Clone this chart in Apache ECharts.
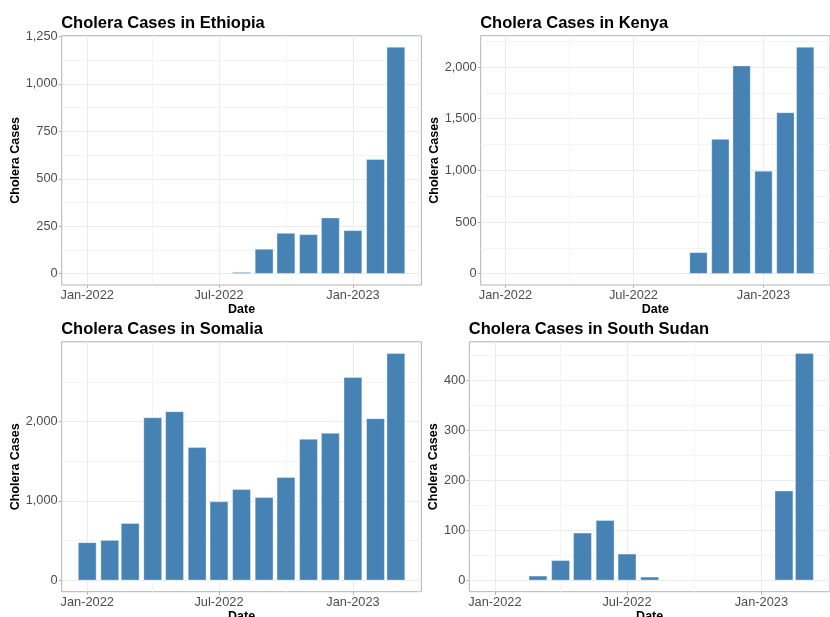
<!DOCTYPE html>
<html><head><meta charset="utf-8">
<script src="https://cdn.jsdelivr.net/npm/echarts@6/dist/echarts.min.js"></script>
<style>html,body{margin:0;padding:0;background:#fff;overflow:hidden}#c{width:830px;height:640px}</style>
</head><body><div id="c"></div>
<script>
// ---- data ----
const months = ['2022-01','2022-02','2022-03','2022-04','2022-05','2022-06','2022-07','2022-08','2022-09','2022-10','2022-11','2022-12','2023-01','2023-02','2023-03'];
const ethiopia   = [0, 0, 0, 0, 0, 0, 0, 8, 130, 214, 207, 295, 228, 603, 1194];
const kenya      = [0, 0, 0, 0, 0, 0, 0, 0, 0, 206, 1302, 2013, 994, 1560, 2193];
const somalia    = [477, 506, 720, 2050, 2126, 1674, 992, 1146, 1046, 1297, 1778, 1854, 2556, 2038, 2860];
const southSudan = [0, 0, 9, 40, 95, 120, 53, 7, 0, 0, 0, 0, 0, 179, 454];
const titles = ['Cholera Cases in Ethiopia','Cholera Cases in Kenya','Cholera Cases in Somalia','Cholera Cases in South Sudan'];
const xMajorTicks = ['2022-01-01','2022-07-01','2023-01-01'];
const xMinorTicks = ['2022-04-01','2022-10-01','2023-04-01'];
const ethiopiaTicks = [0, 250, 500, 750, 1000, 1250];
const kenyaTicks = [0, 500, 1000, 1500, 2000];
const somaliaTicks = [0, 1000, 2000];
const southSudanTicks = [0, 100, 200, 300, 400];
const monthAbbr = ['Jan','Feb','Mar','Apr','May','Jun','Jul','Aug','Sep','Oct','Nov','Dec'];

// ---- helpers ----
const toTs = s => { const p = s.split('-').map(Number); return Date.UTC(p[0], p[1]-1, p[2] || 1); };
const monthTs = months.map(toTs);
const DAY = 86400000;
const minGap = 28 * DAY;
const lo = monthTs[0] - 0.45*minGap, hi = monthTs[monthTs.length-1] + 0.45*minGap;
const xMin = lo - 0.05*(hi-lo), xMax = hi + 0.05*(hi-lo);
const minorOf = t => { const d = t[1]-t[0]; const out=[]; for (let i=-1;i<t.length;i++){ out.push(t[0]+d*(i+0.5)); } return out; };

const FONT = 'Liberation Sans, Arial, Helvetica, sans-serif';
const panels = [
  {data: ethiopia,   ticks: ethiopiaTicks,   left: 61.7,  top: 35.7,  width: 359.7, height: 249.3, gap: 36.8},
  {data: kenya,      ticks: kenyaTicks,      left: 480.7, top: 35.7,  width: 359.0, height: 249.3, gap: 37.5},
  {data: somalia,    ticks: somaliaTicks,    left: 61.7,  top: 341.8, width: 359.7, height: 249.9, gap: 36.8},
  {data: southSudan, ticks: southSudanTicks, left: 469.3, top: 341.8, width: 369.5, height: 249.9, gap: 26.3}
];

const option = {backgroundColor:'#fff', animation:false, title:[], grid:[], xAxis:[], yAxis:[], series:[]};
panels.forEach((p, i) => {
  const ymax = Math.max(...p.data);
  const yMin = -0.05*ymax, yMax = 1.05*ymax;
  option.title.push({text: titles[i], left: p.left - 0.5, top: p.top - 21.2, padding: 0,
    textStyle: {fontFamily: FONT, fontSize: 16.5, fontWeight: 'bold', color: '#000', lineHeight: 17}});
  option.grid.push({left: p.left, top: p.top, width: p.width, height: p.height, show: true,
    borderColor: '#B3B3B3', borderWidth: 1, backgroundColor: 'transparent'});
  // main x axis (timestamps on a value scale)
  option.xAxis.push({type: 'value', gridIndex: i, min: xMin, max: xMax, position: 'bottom',
    name: 'Date', nameLocation: 'middle', nameGap: 17,
    nameTextStyle: {fontFamily: FONT, fontSize: 12.5, fontWeight: 'bold', color: '#000', lineHeight: 13},
    axisLine: {show: false, onZero: false},
    axisTick: {show: true, length: 3, lineStyle: {color: '#B3B3B3'}, customValues: xMajorTicks.map(toTs)},
    axisLabel: {show: true, margin: 4, fontFamily: FONT, fontSize: 12.8, color: '#4D4D4D',
      customValues: xMajorTicks.map(toTs),
      formatter: v => { const d = new Date(v); return monthAbbr[d.getUTCMonth()] + '-' + d.getUTCFullYear(); }},
    splitLine: {show: true, lineStyle: {color: '#EBEBEB', width: 1}}
  });
  // minor x grid
  option.xAxis.push({type: 'value', gridIndex: i, min: xMin, max: xMax, position: 'top',
    axisLine: {show: false, onZero: false}, axisLabel: {show: false},
    axisTick: {show: false, customValues: xMinorTicks.map(toTs)},
    splitLine: {show: true, lineStyle: {color: '#F4F4F4', width: 1}}
  });
  option.yAxis.push({type: 'value', gridIndex: i, min: yMin, max: yMax, position: 'left',
    name: 'Cholera Cases', nameLocation: 'middle', nameGap: p.gap,
    nameTextStyle: {fontFamily: FONT, fontSize: 12.5, fontWeight: 'bold', color: '#000', lineHeight: 13},
    axisLine: {show: false, onZero: false},
    axisTick: {show: true, length: 3, lineStyle: {color: '#B3B3B3'}, customValues: p.ticks},
    axisLabel: {show: true, margin: 4, fontFamily: FONT, fontSize: 12.8, color: '#4D4D4D',
      customValues: p.ticks, formatter: v => Number(v).toLocaleString('en-US')},
    splitLine: {show: true, lineStyle: {color: '#EBEBEB', width: 1}}
  });
  option.yAxis.push({type: 'value', gridIndex: i, min: yMin, max: yMax, position: 'right',
    axisLine: {show: false, onZero: false}, axisLabel: {show: false},
    axisTick: {show: false, customValues: minorOf(p.ticks)},
    splitLine: {show: true, lineStyle: {color: '#F4F4F4', width: 1}}
  });
  option.series.push({type: 'bar', xAxisIndex: 2*i, yAxisIndex: 2*i, barWidth: '90%',
    data: monthTs.map((t, k) => p.data[k] === 0
      ? {value: [t, 0], itemStyle: {borderWidth: 0, opacity: 0}}
      : {value: [t, p.data[k]]}),
    itemStyle: {color: '#4682B4', borderColor: 'rgba(255,255,255,0.7)', borderWidth: 0.5}, z: 3});
});
const chart = echarts.init(document.getElementById('c'), null, {renderer: 'canvas'});
chart.setOption(option);
</script>
</body></html>
